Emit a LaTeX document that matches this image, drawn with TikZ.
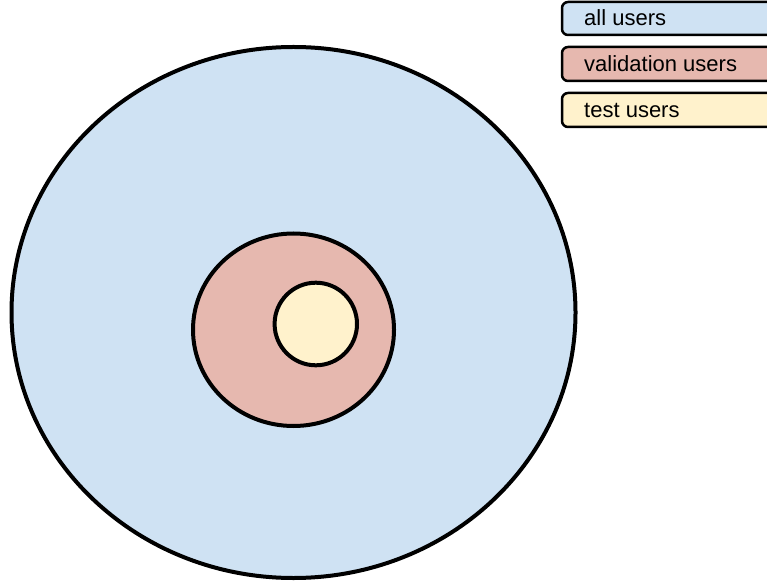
\documentclass[tikz,border=0pt]{standalone}
\usepackage{fontspec}
\setmainfont{Liberation Sans}
\definecolor{allblue}{HTML}{CFE2F3}
\definecolor{valred}{HTML}{E6B8AF}
\definecolor{testyellow}{HTML}{FFF2CC}
\begin{document}
\begin{tikzpicture}[x=1pt,y=1pt,
  ring/.style={draw=black,line width=4pt},
  keybox/.style={draw=black,line width=2.5pt,rounded corners=6pt},
  keytext/.style={anchor=base west,inner sep=0pt,font=\fontsize{22}{26}\selectfont}]
\useasboundingbox (0,0) rectangle (767,584);
\clip (0,0) rectangle (767,584);

% nested user groups
\draw[ring,fill=allblue] (293.5,271.5) ellipse [x radius=282, y radius=265.5];
\draw[ring,fill=valred] (293.5,254.25) ellipse [x radius=100.5, y radius=96.25];
\draw[ring,fill=testyellow] (315.8,260) ellipse [x radius=41.2, y radius=41.3];

% legend
\draw[keybox,fill=allblue] (562,549) rectangle (790,582);
\draw[keybox,fill=valred] (562,503) rectangle (790,537);
\draw[keybox,fill=testyellow] (562,457) rectangle (790,491);
\node[keytext] (lall) at (584,558) {all users};
\node[keytext] (lval) at (584,512.3) {validation users};
\node[keytext] (ltest) at (584,466) {test users};
\end{tikzpicture}
\end{document}
